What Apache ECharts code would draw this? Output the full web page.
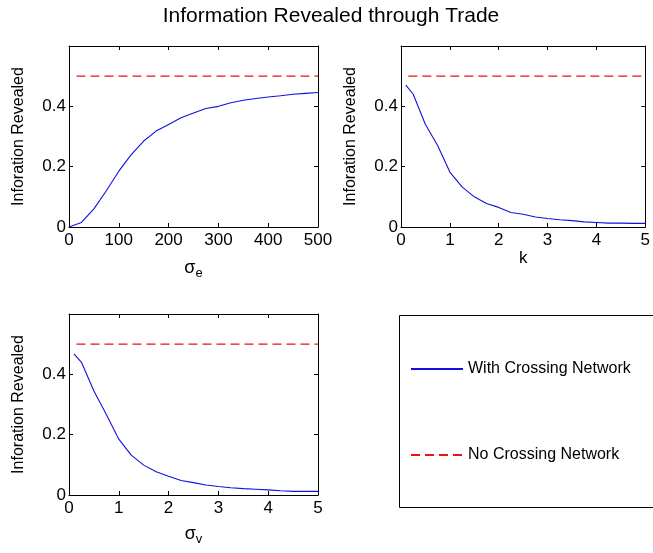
<!DOCTYPE html>
<html>
<head>
<meta charset="utf-8">
<title>Information Revealed through Trade</title>
<script src="https://cdn.jsdelivr.net/npm/echarts@6/dist/echarts.min.js"></script>
<style>
  html, body { margin: 0; padding: 0; background: #fff; }
  #chart { width: 653px; height: 553px; }
</style>
</head>
<body>
<div id="chart"></div>
<script>
// sigma_e panel
var sigmaE = [0, 25, 50, 75, 100, 125, 150, 175, 200, 225, 250, 275, 300, 325, 350, 375, 400, 425, 450, 475, 500];
var revealedE = [0, 0.015, 0.06, 0.12, 0.185, 0.24, 0.285, 0.318, 0.34, 0.362, 0.378, 0.393, 0.4, 0.412, 0.42, 0.426, 0.431, 0.435, 0.44, 0.443, 0.446];
// k panel
var kVals = [0.1, 0.25, 0.5, 0.75, 1, 1.25, 1.5, 1.75, 2, 2.25, 2.5, 2.75, 3, 3.25, 3.5, 3.75, 4, 4.25, 4.5, 4.75, 5];
var revealedK = [0.47, 0.44, 0.34, 0.27, 0.182, 0.133, 0.1, 0.078, 0.065, 0.048, 0.042, 0.033, 0.028, 0.024, 0.021, 0.017, 0.015, 0.013, 0.013, 0.012, 0.012];
// sigma_v panel
var sigmaV = [0.1, 0.25, 0.5, 0.75, 1, 1.25, 1.5, 1.75, 2, 2.25, 2.5, 2.75, 3, 3.25, 3.5, 3.75, 4, 4.25, 4.5, 4.75, 5];
var revealedV = [0.468, 0.44, 0.345, 0.267, 0.185, 0.132, 0.099, 0.077, 0.062, 0.048, 0.041, 0.033, 0.028, 0.024, 0.021, 0.019, 0.017, 0.014, 0.012, 0.012, 0.012];
// no crossing network benchmark
var noCrossE = [15, 500];
var noCrossK = [0.15, 5];
var noCrossV = [0.15, 5];
var noCrossLevel = 0.5;

var seriesNames = ["With Crossing Network", "No Crossing Network"];
var yTitle = "Inforation Revealed";

var font = "'Liberation Sans', Arial, sans-serif";
var blue = "#1010e0";
var red = "#ee1111";

function pairs(xs, ys) {
  return xs.map(function (x, i) { return [x, ys[i]]; });
}
function flat(xs, level) {
  return xs.map(function (x) { return [x, level]; });
}

var grids = [
  { left: 69, top: 46, width: 249, height: 181 },
  { left: 401, top: 46, width: 250, height: 181 },
  { left: 69, top: 314, width: 249, height: 181 }
];
var xRanges = [
  { max: 500, interval: 100, name: "{s|σ}{sub|e}", gap: 30 },
  { max: 5, interval: 1, name: "k", gap: 20 },
  { max: 5, interval: 1, name: "{s|σ}{sub|v}", gap: 28 }
];

var xAxes = [], yAxes = [];
grids.forEach(function (g, i) {
  var r = xRanges[i];
  xAxes.push({
    gridIndex: i, type: "value", min: 0, max: r.max, interval: r.interval,
    name: r.name, nameLocation: "middle", nameGap: r.gap,
    nameTextStyle: {
      color: "#000", fontFamily: font, fontSize: 17,
      rich: {
        s: { fontSize: 18, fontFamily: font, color: "#000" },
        sub: { fontSize: 13, fontFamily: font, color: "#000", padding: [10, 0, 0, 0] }
      }
    },
    axisLine: { onZero: false, lineStyle: { color: "#000", width: 1 } },
    axisTick: { inside: true, length: 4, lineStyle: { color: "#000" } },
    axisLabel: { color: "#000", fontFamily: font, fontSize: 17, margin: 5 },
    splitLine: { show: false }
  });
  xAxes.push({
    gridIndex: i, type: "value", position: "top", min: 0, max: r.max, interval: r.interval,
    axisLine: { onZero: false, lineStyle: { color: "#000", width: 1 } },
    axisTick: { inside: true, length: 4, lineStyle: { color: "#000" } },
    axisLabel: { show: false },
    splitLine: { show: false }
  });
  yAxes.push({
    gridIndex: i, type: "value", min: 0, max: 0.6, interval: 0.2,
    name: yTitle, nameLocation: "middle", nameGap: 42,
    nameTextStyle: { color: "#000", fontFamily: font, fontSize: 16 },
    axisLine: { onZero: false, lineStyle: { color: "#000", width: 1 } },
    axisTick: { inside: true, length: 4, lineStyle: { color: "#000" } },
    axisLabel: {
      color: "#000", fontFamily: font, fontSize: 17, margin: 3, showMaxLabel: false,
      formatter: function (v) { return v === 0 ? "0" : v.toFixed(1); }
    },
    splitLine: { show: false }
  });
  yAxes.push({
    gridIndex: i, type: "value", position: "right", min: 0, max: 0.6, interval: 0.2,
    axisLine: { onZero: false, lineStyle: { color: "#000", width: 1 } },
    axisTick: { inside: true, length: 4, lineStyle: { color: "#000" } },
    axisLabel: { show: false },
    splitLine: { show: false }
  });
});

var lineData = [pairs(sigmaE, revealedE), pairs(kVals, revealedK), pairs(sigmaV, revealedV)];
var dashData = [flat(noCrossE, noCrossLevel), flat(noCrossK, noCrossLevel), flat(noCrossV, noCrossLevel)];

var series = [];
grids.forEach(function (g, i) {
  series.push({
    name: seriesNames[0], type: "line", xAxisIndex: 2 * i, yAxisIndex: 2 * i,
    data: lineData[i], showSymbol: false, symbol: "none", silent: true,
    lineStyle: { color: blue, width: 1.1 }, itemStyle: { color: blue }
  });
  series.push({
    name: seriesNames[1], type: "line", xAxisIndex: 2 * i, yAxisIndex: 2 * i,
    data: dashData[i], showSymbol: false, symbol: "none", silent: true,
    lineStyle: { color: red, width: 1.3, type: [9, 5] }, itemStyle: { color: red }
  });
});

var myChart = echarts.init(document.getElementById("chart"), null, { renderer: "canvas" });
var option = {
  animation: false,
  backgroundColor: "#fff",
  title: {
    text: "Information Revealed through Trade",
    left: 326, top: 1, textAlign: "center",
    textStyle: { color: "#000", fontFamily: font, fontSize: 21, fontWeight: "normal" }
  },
  grid: grids,
  xAxis: xAxes,
  yAxis: yAxes,
  legend: {
    orient: "vertical", left: 410, top: 361, itemGap: 70, padding: 0,
    itemWidth: 52, itemHeight: 16,
    data: seriesNames,
    selectedMode: false,
    itemStyle: { opacity: 0 },
    textStyle: { color: "#000", fontFamily: font, fontSize: 16 }
  },
  graphic: [
    {
      type: "rect", left: 399, top: 315, silent: true, z: -1,
      shape: { width: 270, height: 192 },
      style: { fill: "#fff", stroke: "#000", lineWidth: 1 }
    }
  ],
  series: series
};
myChart.setOption(option);
</script>
</body>
</html>
